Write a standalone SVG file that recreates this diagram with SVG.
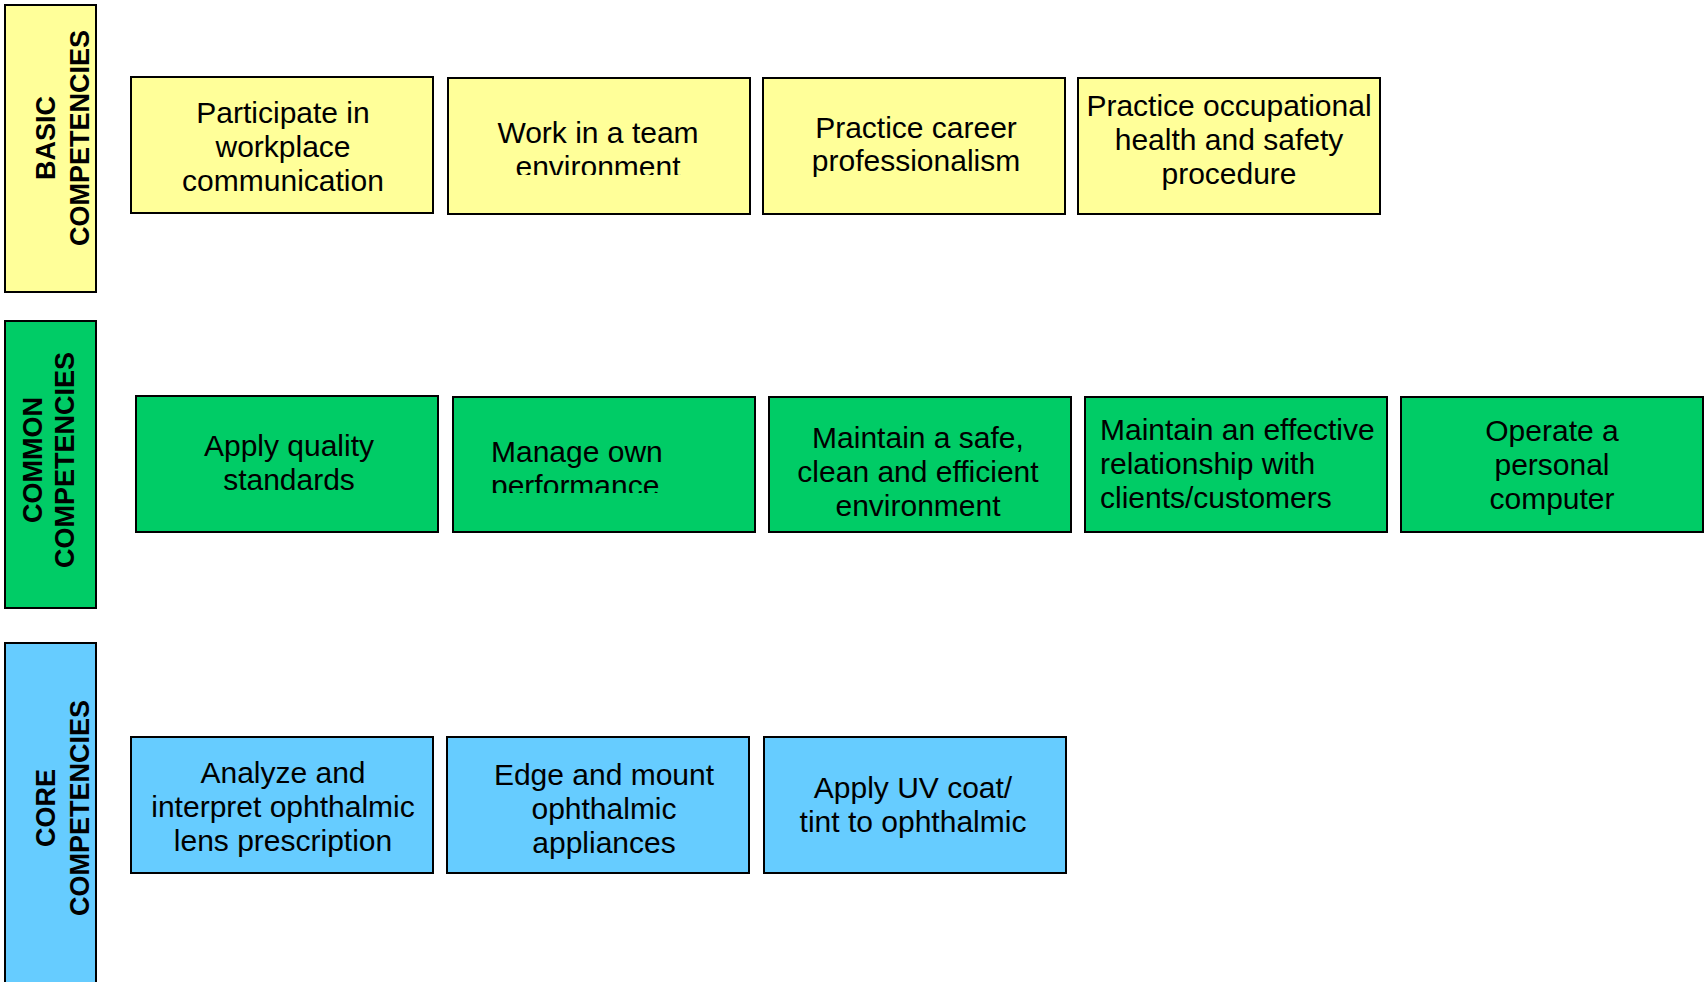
<svg xmlns="http://www.w3.org/2000/svg" width="1707" height="982" viewBox="0 0 1707 982">
  <style>
    .box { stroke: #000; stroke-width: 2; }
    .basic { fill: #FFFF99; }
    .common { fill: #00CC66; }
    .core { fill: #66CCFF; }
    .lbl { font-family: "Liberation Sans", Arial, sans-serif; font-size: 27px; font-weight: bold; fill: #000; text-anchor: middle; }
    .t { font-family: "Liberation Sans", Arial, sans-serif; font-size: 30px; fill: #000; text-anchor: middle; }
    .tl { font-family: "Liberation Sans", Arial, sans-serif; font-size: 30px; fill: #000; text-anchor: start; }
  </style>
  <defs>
    <clipPath id="clipWork"><rect x="448" y="78" width="302" height="97"/></clipPath>
    <clipPath id="clipManage"><rect x="453" y="397" width="302" height="96"/></clipPath>
  </defs>
  <rect width="1707" height="982" fill="#fff"/>

  <!-- Row headers -->
  <g id="basic-header">
    <rect class="box basic" x="5" y="5" width="91" height="287"/>
    <text class="lbl" transform="translate(55,138) rotate(-90)">BASIC</text>
    <text class="lbl" transform="translate(89,138) rotate(-90)">COMPETENCIES</text>
  </g>
  <g id="common-header">
    <rect class="box common" x="5" y="321" width="91" height="287"/>
    <text class="lbl" transform="translate(42,460) rotate(-90)">COMMON</text>
    <text class="lbl" transform="translate(74,460) rotate(-90)">COMPETENCIES</text>
  </g>
  <g id="core-header">
    <rect class="box core" x="5" y="643" width="91" height="350"/>
    <text class="lbl" transform="translate(55,808) rotate(-90)">CORE</text>
    <text class="lbl" transform="translate(89,808) rotate(-90)">COMPETENCIES</text>
  </g>

  <!-- Basic competencies -->
  <g id="basic-1">
    <rect class="box basic" x="131" y="77" width="302" height="136"/>
    <text class="t" x="283"><tspan x="283" y="123">Participate in</tspan><tspan x="283" y="157">workplace</tspan><tspan x="283" y="191">communication</tspan></text>
  </g>
  <g id="basic-2">
    <rect class="box basic" x="448" y="78" width="302" height="136"/>
    <text class="t" x="598" clip-path="url(#clipWork)"><tspan x="598" y="143">Work in a team</tspan><tspan x="598" y="177">environment</tspan></text>
  </g>
  <g id="basic-3">
    <rect class="box basic" x="763" y="78" width="302" height="136"/>
    <text class="t" x="916"><tspan x="916" y="138">Practice career</tspan><tspan x="916" y="171">professionalism</tspan></text>
  </g>
  <g id="basic-4">
    <rect class="box basic" x="1078" y="78" width="302" height="136"/>
    <text class="t" x="1229"><tspan x="1229" y="116">Practice occupational</tspan><tspan x="1229" y="150">health and safety</tspan><tspan x="1229" y="184">procedure</tspan></text>
  </g>

  <!-- Common competencies -->
  <g id="common-1">
    <rect class="box common" x="136" y="396" width="302" height="136"/>
    <text class="t" x="289"><tspan x="289" y="456">Apply quality</tspan><tspan x="289" y="490">standards</tspan></text>
  </g>
  <g id="common-2">
    <rect class="box common" x="453" y="397" width="302" height="135"/>
    <text class="tl" x="491" clip-path="url(#clipManage)"><tspan x="491" y="462">Manage own</tspan><tspan x="491" y="496">performance</tspan></text>
  </g>
  <g id="common-3">
    <rect class="box common" x="769" y="397" width="302" height="135"/>
    <text class="t" x="918"><tspan x="918" y="448">Maintain a safe,</tspan><tspan x="918" y="482">clean and efficient</tspan><tspan x="918" y="516">environment</tspan></text>
  </g>
  <g id="common-4">
    <rect class="box common" x="1085" y="397" width="302" height="135"/>
    <text class="tl" x="1100"><tspan x="1100" y="440">Maintain an effective</tspan><tspan x="1100" y="474">relationship with</tspan><tspan x="1100" y="508">clients/customers</tspan></text>
  </g>
  <g id="common-5">
    <rect class="box common" x="1401" y="397" width="302" height="135"/>
    <text class="t" x="1552"><tspan x="1552" y="441">Operate a</tspan><tspan x="1552" y="475">personal</tspan><tspan x="1552" y="509">computer</tspan></text>
  </g>

  <!-- Core competencies -->
  <g id="core-1">
    <rect class="box core" x="131" y="737" width="302" height="136"/>
    <text class="t" x="283"><tspan x="283" y="783">Analyze and</tspan><tspan x="283" y="817">interpret ophthalmic</tspan><tspan x="283" y="851">lens prescription</tspan></text>
  </g>
  <g id="core-2">
    <rect class="box core" x="447" y="737" width="302" height="136"/>
    <text class="t" x="604"><tspan x="604" y="785">Edge and mount</tspan><tspan x="604" y="819">ophthalmic</tspan><tspan x="604" y="853">appliances</tspan></text>
  </g>
  <g id="core-3">
    <rect class="box core" x="764" y="737" width="302" height="136"/>
    <text class="t" x="913"><tspan x="913" y="798">Apply UV coat/</tspan><tspan x="913" y="832">tint to ophthalmic</tspan></text>
  </g>
</svg>
